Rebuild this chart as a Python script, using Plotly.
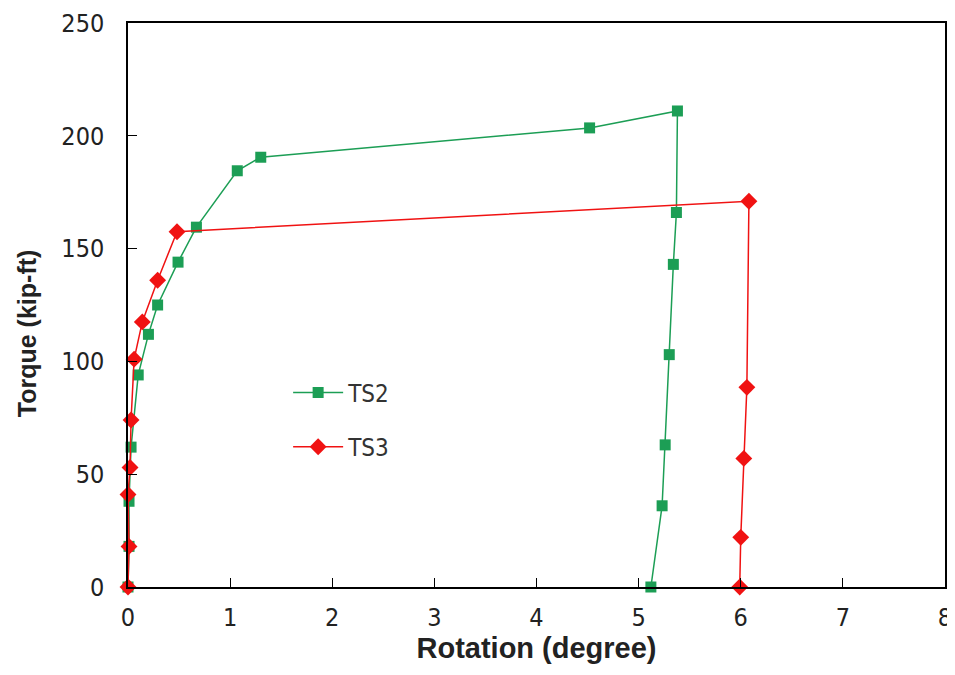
import plotly.graph_objects as go

ts2_rot = [0, 0.01, 0.01, 0.03, 0.10, 0.20, 0.29, 0.49, 0.67, 1.07, 1.30, 4.52, 5.38, 5.37, 5.34, 5.30, 5.26, 5.23, 5.12]
ts2_torque = [0, 18, 38, 62, 94, 112, 125, 144, 159.5, 184.5, 190.5, 203.5, 211, 166, 143, 103, 63, 36, 0]

ts3_rot = [0, 0.01, 0.0, 0.02, 0.03, 0.06, 0.14, 0.29, 0.48, 6.08, 6.06, 6.03, 6.00, 5.99]
ts3_torque = [0, 18, 41, 53, 74, 101, 117.5, 136, 157.5, 171, 88.5, 57, 22, 0]

x_ticks = [0, 1, 2, 3, 4, 5, 6, 7, 8]
y_ticks = [0, 50, 100, 150, 200, 250]

narrow = "Liberation Sans Narrow, DejaVu Sans Condensed, Arial Narrow, sans-serif"
bold = "Liberation Sans, Arial, sans-serif"

fig = go.Figure()
fig.add_trace(go.Scatter(x=ts2_rot, y=ts2_torque, name="TS2", mode="lines+markers",
                         line=dict(color="#1c9e55", width=1.5),
                         marker=dict(symbol="square", size=11, color="#1c9e55"),
                         legendgroup="a", cliponaxis=False))
fig.add_trace(go.Scatter(x=ts3_rot, y=ts3_torque, name="TS3", mode="lines+markers",
                         line=dict(color="#f01212", width=1.5),
                         marker=dict(symbol="diamond", size=13, color="#f01212"),
                         legendgroup="b", cliponaxis=False))

fig.update_layout(
    width=945, height=665,
    margin=dict(l=120, r=8, t=15, b=86),
    plot_bgcolor="white", paper_bgcolor="white",
    font=dict(family=narrow, color="#222", size=24),
    legend=dict(x=0.196, y=0.384, xanchor="left", yanchor="top", bgcolor="rgba(0,0,0,0)",
                font=dict(family=narrow, size=24, color="#333"), tracegroupgap=20, itemwidth=50),
    showlegend=True,
    annotations=[dict(text="<b>Torque (kip-ft)</b>", textangle=-90, xref="paper", yref="paper",
                      x=0, y=0.45, xanchor="center", yanchor="middle", xshift=-101,
                      showarrow=False, font=dict(family=bold, size=25, color="#222"))],
)
fig.update_xaxes(range=[0, 8], tickvals=x_ticks, ticktext=[str(v) for v in x_ticks],
                 ticks="inside", ticklen=9, tickcolor="black", showline=True, linecolor="black",
                 linewidth=1.5, mirror=True, showgrid=False, zeroline=False, automargin=False,
                 tickfont=dict(family=narrow, size=25, color="#222"), ticklabelstandoff=7,
                 title=dict(text="<b>Rotation (degree)</b>", font=dict(family=bold, size=29, color="#222"),
                            standoff=6))
fig.update_yaxes(range=[0, 250], tickvals=y_ticks, ticktext=[str(v) for v in y_ticks],
                 ticks="inside", ticklen=9, tickcolor="black", showline=True, linecolor="black",
                 linewidth=1.5, mirror=True, showgrid=False, zeroline=False, automargin=False,
                 tickfont=dict(family=narrow, size=25, color="#222"), ticklabelstandoff=17)

fig.write_html("out.html")
